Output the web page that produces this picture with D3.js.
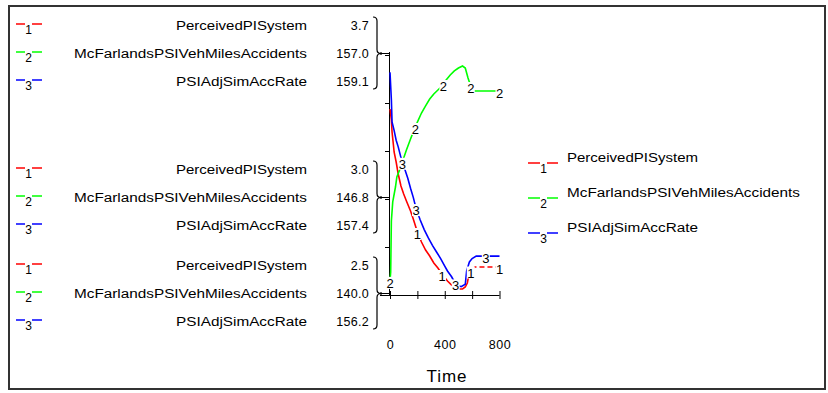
<!DOCTYPE html>
<html><head><meta charset="utf-8">
<script src="https://cdn.jsdelivr.net/npm/d3@7"></script>
<style>
body{margin:0;background:#fff}
svg{display:block}
text{font-family:"Liberation Sans",Arial,sans-serif;fill:#000}
</style>
</head><body>
<svg id="c" width="828" height="393"></svg>
<script>
// ---- data ----
const seriesNames = ["PerceivedPISystem", "McFarlandsPSIVehMilesAccidents", "PSIAdjSimAccRate"];
const seriesMarks = ["1", "2", "3"];
const seriesColors = ["#ff0000", "#00ff00", "#0000ff"];
const yDomains = [[2.5, 3.7], [140, 157], [156.2, 159.1]];
const tickLabelsTop = ["3.7", "157.0", "159.1"];
const tickLabelsMid = ["3.0", "146.8", "157.4"];
const tickLabelsBot = ["2.5", "140.0", "156.2"];
const xTicks = [0, 200, 400, 600, 800];
const xTickLabels = ["0", "", "400", "", "800"];

const timeRed = [0,10,15,25,30,45,60,80,100,120,150,170,200,230,260,290,320,350,380,420,450,480,500,530,550,565,580,600,620,800];
const valRed  = [3.43,3.375,3.315,3.25,3.215,3.165,3.105,3.045,3.005,2.97,2.92,2.88,2.815,2.765,2.725,2.695,2.66,2.635,2.605,2.57,2.55,2.54,2.53,2.53,2.54,2.56,2.615,2.63,2.64,2.64];

const timeGreen = [0,5,10,20,40,50,70,90,120,150,170,200,230,260,290,320,350,380,410,440,470,500,530,550,570,590,610,800];
const valGreen  = [141.0,141.63,145.24,146.59,147.65,148.36,148.85,149.42,150.27,151.05,151.55,152.25,152.89,153.39,153.88,154.24,154.52,154.80,155.23,155.58,155.87,156.08,156.22,156.08,155.37,154.80,154.45,154.45];

const timeBlue = [0,10,15,30,45,60,80,100,110,130,150,170,190,220,250,280,310,340,370,400,420,450,470,490,520,550,560,580,600,630,700,800];
const valBlue  = [158.89,158.56,158.29,158.19,158.07,157.99,157.86,157.76,157.71,157.61,157.49,157.38,157.25,157.11,156.99,156.89,156.80,156.72,156.64,156.55,156.49,156.42,156.36,156.32,156.30,156.33,156.49,156.60,156.64,156.67,156.67,156.67];

const labelTimes = [[200, 380, 590, 800], [0, 185, 390, 590, 800], [90, 190, 480, 700]];

// ---- drawing ----
const svg = d3.select("#c");
const series = [
  {t: timeRed, v: valRed},
  {t: timeGreen, v: valGreen},
  {t: timeBlue, v: valBlue}
];

const X0 = 390, X1 = 499.5, YT = 55, YB = 295;
const x = d3.scaleLinear().domain([0, 800]).range([X0, X1]);
const ys = yDomains.map(d => d3.scaleLinear().domain(d).range([YB, YT]));
const yFrac = d3.scaleLinear().domain([0, 5]).range([YB, YT]);

// frame
svg.append("rect").attr("x", 9).attr("y", 6).attr("width", 816).attr("height", 383)
  .attr("fill", "none").attr("stroke", "#333").attr("stroke-width", 2);

// y axis (unlabelled, ticks only)
const gy = svg.append("g").attr("transform", `translate(${X0},0)`)
  .call(d3.axisLeft(yFrac).tickValues([0,1,2,3,4,5]).tickSize(5).tickFormat(""));
gy.select(".domain").attr("d", `M-0.5,${YT - 3}V${YB}`).attr("stroke", "#000");
gy.selectAll(".tick line").attr("stroke", "#000");

// x axis
const gx = svg.append("g").attr("transform", `translate(0,${YB})`)
  .call(d3.axisBottom(x).tickValues(xTicks).tickSize(4).tickFormat((d, i) => xTickLabels[i]));
gx.select(".domain").attr("d", `M${X0 - 10},0.5H${X1}`).attr("stroke", "#000");
gx.selectAll(".tick line").attr("y1", -4).attr("stroke", "#000");
gx.selectAll(".tick text").attr("y", 54).attr("dy", 0).attr("font-size", 12.5)
  .attr("letter-spacing", 0.6).attr("font-family", "Liberation Sans, Arial");

svg.append("text").attr("x", 447).attr("y", 382).attr("text-anchor", "middle")
  .attr("font-size", 17).attr("letter-spacing", 1).text("Time");

// left axis label groups
const groupAxisY = [yFrac(5), yFrac(2), yFrac(0)];
const groupLabels = [tickLabelsTop, tickLabelsMid, tickLabelsBot];
const nameWidths = [131, 233, 131];
groupAxisY.forEach((ay, g) => {
  const c = ay - 2;
  const rows = [c - 28, c, c + 28];
  rows.forEach((ry, i) => {
    // marker
    svg.append("line").attr("x1", 16).attr("x2", 42).attr("y1", ry - 1).attr("y2", ry - 1)
      .attr("stroke", seriesColors[i]).attr("stroke-width", 1.5);
    svg.append("rect").attr("x", 25).attr("y", ry - 2).attr("width", 7).attr("height", 11).attr("fill", "#fff");
    svg.append("text").attr("x", 28.5).attr("y", ry + 8.5).attr("text-anchor", "middle")
      .attr("font-size", 12).text(seriesMarks[i]);
    // name
    svg.append("text").attr("x", 307).attr("y", ry + 4.5).attr("text-anchor", "end")
      .attr("font-size", 12.5).attr("textLength", nameWidths[i]).attr("lengthAdjust", "spacingAndGlyphs")
      .text(seriesNames[i]);
    // value
    svg.append("text").attr("x", 369).attr("y", ry + 4.5).attr("text-anchor", "end")
      .attr("font-size", 12.5).attr("letter-spacing", 0.3).text(groupLabels[g][i]);
  });
  // brace
  const top = rows[0] - 8, bot = rows[2] + 8, mid = ay - 1.5;
  const bx0 = 373, bx1 = 377, bx2 = 381;
  svg.append("path")
    .attr("d", `M${bx0},${top}Q${bx1},${top} ${bx1},${top + 4}L${bx1},${mid - 4}Q${bx1},${mid} ${bx2},${mid}` +
               `Q${bx1},${mid} ${bx1},${mid + 4}L${bx1},${bot - 4}Q${bx1},${bot} ${bx0},${bot}`)
    .attr("fill", "none").attr("stroke", "#000").attr("stroke-width", 1.2);
  svg.append("line").attr("x1", bx2).attr("x2", X0).attr("y1", mid).attr("y2", mid)
    .attr("stroke", "#000").attr("stroke-width", 1);
  svg.append("circle").attr("cx", bx2).attr("cy", mid).attr("r", 1.2).attr("fill", "#000");
});

// series lines
series.forEach((s, i) => {
  const pts = s.t.map((t, k) => [t, s.v[k]]);
  const line = d3.line().x(d => x(d[0])).y(d => ys[i](d[1]));
  if (i === 0) {
    const solid = pts.filter(d => d[0] <= 600);
    const dashed = pts.filter(d => d[0] >= 600);
    svg.append("path").attr("d", line(solid)).attr("fill", "none")
      .attr("stroke", seriesColors[i]).attr("stroke-width", 1.6);
    svg.append("path").attr("d", line(dashed)).attr("fill", "none")
      .attr("stroke", seriesColors[i]).attr("stroke-width", 1.4).attr("stroke-dasharray", "5,3");
  } else {
    svg.append("path").attr("d", line(pts)).attr("fill", "none")
      .attr("stroke", seriesColors[i]).attr("stroke-width", 1.6);
  }
});

// on-line labels
series.forEach((s, i) => {
  labelTimes[i].forEach(t => {
    const v = d3.scaleLinear().domain(s.t).range(s.v)(t);
    const px = x(t), py = ys[i](v) + 2;
    svg.append("rect").attr("x", px - 4).attr("y", py - 6).attr("width", 8).attr("height", 12).attr("fill", "#fff");
    svg.append("text").attr("x", px).attr("y", py + 5).attr("text-anchor", "middle")
      .attr("font-size", 13).text(seriesMarks[i]);
  });
});

// right legend
const legY = [163, 198, 233];
legY.forEach((ly, i) => {
  svg.append("line").attr("x1", 528).attr("x2", 558).attr("y1", ly).attr("y2", ly)
    .attr("stroke", seriesColors[i]).attr("stroke-width", 1.5);
  svg.append("rect").attr("x", 540).attr("y", ly - 1).attr("width", 7).attr("height", 11).attr("fill", "#fff");
  svg.append("text").attr("x", 543.5).attr("y", ly + 9.5).attr("text-anchor", "middle")
    .attr("font-size", 12).text(seriesMarks[i]);
  svg.append("text").attr("x", 567).attr("y", ly - 1).attr("font-size", 12.5)
    .attr("textLength", nameWidths[i]).attr("lengthAdjust", "spacingAndGlyphs").text(seriesNames[i]);
});
</script>
</body></html>
